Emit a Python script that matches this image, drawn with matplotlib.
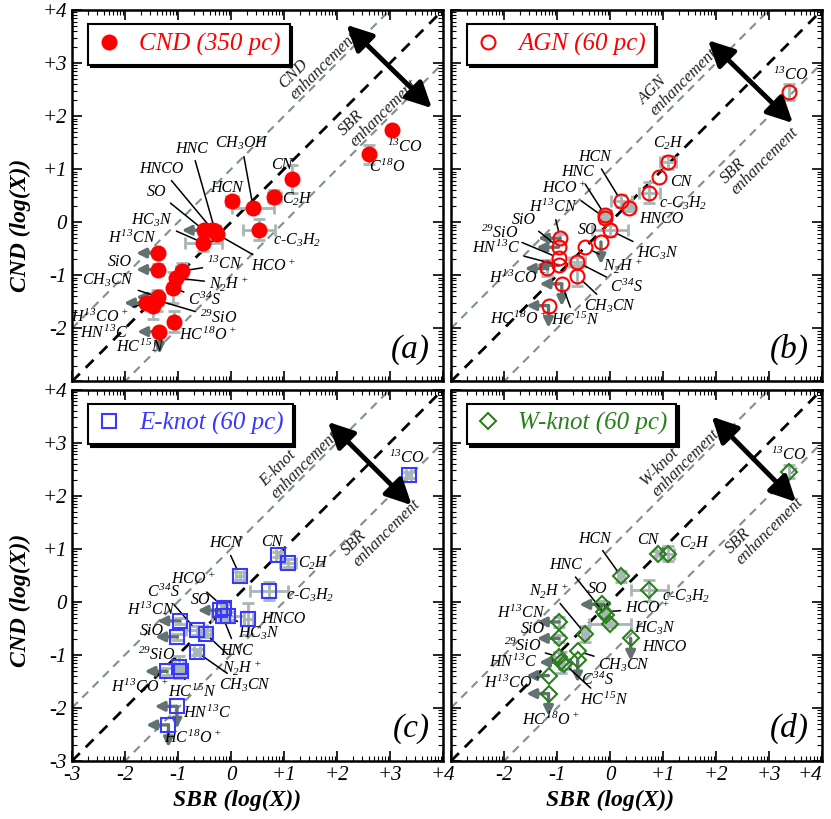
import numpy as np
import matplotlib
matplotlib.use('Agg')
import matplotlib.pyplot as plt
from matplotlib.lines import Line2D

plt.rcParams['font.family'] = 'Liberation Serif'
plt.rcParams['font.style'] = 'italic'
plt.rcParams['mathtext.fontset'] = 'custom'
plt.rcParams['mathtext.rm'] = 'Liberation Serif:italic'
plt.rcParams['mathtext.it'] = 'Liberation Serif:italic'
plt.rcParams['mathtext.bf'] = 'Liberation Serif:italic:bold'

# how each species is written
tex = {
    '13CO': r'$^{13}CO$', 'C18O': r'$C^{18}O$', 'CN': 'CN', 'C2H': r'$C_2H$',
    'HCN': 'HCN', 'CH3OH': r'$CH_3OH$', 'c-C3H2': r'c-$C_3H_2$', 'SO': 'SO',
    'HNCO': 'HNCO', 'HNC': 'HNC', 'HCO+': r'$HCO^+$', 'HC3N': r'$HC_3N$',
    'H13CN': r'$H^{13}CN$', 'SiO': 'SiO', '13CN': r'$^{13}CN$', 'N2H+': r'$N_2H^+$',
    'C34S': r'$C^{34}S$', 'CH3CN': r'$CH_3CN$', '29SiO': r'$^{29}SiO$',
    'H13CO+': r'$H^{13}CO^+$', 'HC15N': r'$HC^{15}N$', 'HC18O+': r'$HC^{18}O^+$',
    'HN13C': r'$HN^{13}C$',
}

# ---- (a) CND 350 pc ----
cnd_species = ['13CO', 'C18O', 'CN', 'C2H', 'HCN', 'CH3OH', 'c-C3H2', 'SO', 'HNCO', 'HNC',
               'HCO+', 'HC3N', 'H13CN', 'SiO', '13CN', 'N2H+', 'C34S', 'CH3CN', '29SiO',
               'H13CO+', 'HC15N', 'HC18O+', 'HN13C']
cnd_sbr = [3.03, 2.61, 1.16, 0.82, 0.02, 0.42, 0.53, -0.51, -0.35, -0.30,
           -0.27, -0.52, -1.37, -1.37, -0.93, -1.04, -1.10, -1.37, -1.39,
           -1.60, -1.48, -1.08, -1.35]
cnd_val = [1.74, 1.28, 0.82, 0.48, 0.40, 0.27, -0.14, -0.15, -0.14, -0.16,
           -0.22, -0.39, -0.58, -0.89, -0.92, -1.05, -1.23, -1.41, -1.47,
           -1.52, -1.58, -1.87, -2.06]
cnd_xerr = [0.05, 0, 0, 0.12, 0.12, 0.40, 0.30, 0, 0.15, 0.10,
            0.08, 0.35, 0, 0, 0.10, 0.08, 0.08, 0, 0.10,
            0, 0.10, 0.08, 0]
cnd_yerr = [0.05, 0.18, 0.26, 0.12, 0.04, 0.10, 0.20, 0, 0.10, 0.08,
            0.10, 0.15, 0, 0.10, 0.15, 0.12, 0.30, 0, 0.20,
            0, 0.25, 0.20, 0]
cnd_lim = ['', '', '', '', '', '', '', 'l', '', '',
           '', '', 'l', 'l', '', '', '', 'l', '',
           'l', '', '', 'ld']

# ---- (b) AGN 60 pc ----
agn_species = ['13CO', 'C2H', 'CN', 'c-C3H2', 'HCN', 'HNCO', 'HNC', 'HCO+', 'HC3N', 'SO',
               'N2H+', 'C34S', 'CH3CN', 'H13CN', 'SiO', '29SiO', 'HN13C', 'H13CO+',
               'HC15N', 'HC18O+']
agn_sbr = [3.37, 1.09, 0.92, 0.74, 0.21, 0.35, -0.09, -0.09, 0.00, -0.17,
           -0.47, -0.62, -0.62, -0.94, -0.97, -0.97, -0.97, -1.19,
           -0.91, -1.16]
agn_val = [2.46, 1.13, 0.86, 0.56, 0.40, 0.27, 0.13, 0.08, -0.15, -0.37,
           -0.47, -0.75, -1.01, -0.30, -0.47, -0.67, -0.81, -0.87,
           -1.16, -1.57]
agn_xerr = [0, 0.15, 0, 0.20, 0.20, 0.10, 0.10, 0.10, 0.34, 0,
            0, 0.15, 0, 0, 0, 0, 0, 0,
            0, 0]
agn_yerr = [0.15, 0.12, 0, 0.20, 0.12, 0.05, 0.10, 0.10, 0.10, 0,
            0, 0.10, 0.20, 0.08, 0, 0, 0, 0.15,
            0, 0]
agn_lim = ['', '', '', '', '', '', '', '', '', 'd',
           '', '', '', 'l', 'l', '', 'l', 'l',
           'ld', 'ld']

# ---- (c) E-knot 60 pc ----
ek_species = ['13CO', 'CN', 'C2H', 'HCN', 'c-C3H2', 'HNCO', 'HCO+', 'SO', 'HC3N', 'HNC',
              'C34S', 'N2H+', 'H13CN', 'SiO', 'CH3CN', '29SiO', 'HC15N', 'H13CO+',
              'HN13C', 'HC18O+']
ek_sbr = [3.35, 0.89, 1.07, 0.17, 0.72, 0.33, -0.13, -0.21, -0.05, -0.16,
          -0.65, -0.48, -0.97, -1.01, -0.64, -0.98, -0.95, -1.21,
          -1.02, -1.18]
ek_val = [2.39, 0.89, 0.73, 0.49, 0.20, -0.33, -0.11, -0.16, -0.27, -0.27,
          -0.54, -0.60, -0.36, -0.66, -0.95, -1.23, -1.31, -1.31,
          -1.97, -2.32]
ek_xerr = [0.05, 0.05, 0.15, 0.08, 0.36, 0.08, 0.06, 0, 0.30, 0.06,
           0.20, 0.10, 0, 0, 0.06, 0.08, 0.06, 0,
           0, 0]
ek_yerr = [0.05, 0.05, 0.08, 0.08, 0.17, 0.30, 0.06, 0, 0.08, 0.06,
           0.08, 0.06, 0.06, 0.06, 0.06, 0.20, 0.10, 0.06,
           0, 0]
ek_lim = ['', '', '', '', '', '', '', 'l', '', '',
          '', '', 'l', 'l', '', '', '', 'l',
          'ld', 'ld']

# ---- (d) W-knot 60 pc ----
wk_species = ['13CO', 'CN', 'C2H', 'HCN', 'c-C3H2', 'SO', 'HCO+', 'HNC', 'HC3N', 'N2H+',
              'HNCO', 'H13CN', 'SiO', 'CH3CN', 'C34S', '29SiO', 'HN13C', 'HC15N',
              'H13CO+', 'HC18O+']
wk_sbr = [3.38, 0.91, 1.10, 0.21, 0.74, -0.16, -0.11, -0.08, 0.00, -0.47,
          0.39, -0.96, -0.96, -0.61, -0.61, -0.96, -0.92, -0.86,
          -1.16, -1.16]
wk_val = [2.45, 0.91, 0.91, 0.48, 0.22, -0.05, -0.19, -0.25, -0.42, -0.60,
          -0.69, -0.38, -0.69, -0.93, -1.10, -1.04, -1.14, -1.17,
          -1.39, -1.73]
wk_xerr = [0, 0.05, 0.10, 0.06, 0.35, 0, 0.06, 0.06, 0.40, 0.06,
           0, 0, 0, 0, 0, 0.10, 0, 0.10,
           0, 0]
wk_yerr = [0.12, 0.05, 0.15, 0.10, 0.20, 0.06, 0.06, 0.06, 0.06, 0.15,
           0, 0.10, 0.06, 0, 0, 0.10, 0.20, 0.10,
           0, 0]
wk_lim = ['', '', '', '', '', 'l', '', '', '', '',
          'd', 'l', 'l', '', 'd', '', 'l', '',
          'l', 'ld']

# label placement: species -> (x, y, leader line?)
cnd_lab = {
    '13CO': (3.28, 1.42, 0), 'C18O': (2.94, 1.04, 0), 'CN': (0.96, 1.08, 0),
    'C2H': (1.26, 0.43, 0), 'HCN': (-0.08, 0.64, 0), 'CH3OH': (0.20, 1.48, 1),
    'HNC': (-0.74, 1.39, 1), 'HNCO': (-1.31, 1.01, 1), 'SO': (-1.40, 0.57, 1),
    'HC3N': (-1.50, 0.04, 1), 'H13CN': (-1.87, -0.31, 0), 'c-C3H2': (1.24, -0.34, 0),
    'HCO+': (0.80, -0.83, 1), 'SiO': (-2.09, -0.75, 0), '13CN': (-0.12, -0.79, 1),
    'N2H+': (-0.05, -1.16, 1), 'CH3CN': (-2.32, -1.09, 1), 'C34S': (-0.50, -1.47, 1),
    'H13CO+': (-2.47, -1.79, 1), '29SiO': (-0.24, -1.81, 1), 'HN13C': (-2.40, -2.09, 0),
    'HC18O+': (-0.43, -2.13, 0), 'HC15N': (-1.72, -2.35, 0),
}
agn_lab = {
    '13CO': (3.42, 2.77, 0), 'C2H': (1.11, 1.49, 0), 'CN': (1.34, 0.76, 0),
    'c-C3H2': (1.37, 0.35, 0), 'HCN': (-0.30, 1.23, 1), 'HNCO': (0.96, 0.07, 0),
    'HNC': (-0.61, 0.94, 1), 'HCO+': (-0.86, 0.63, 1), 'HC3N': (0.90, -0.59, 1),
    'SO': (-0.42, -0.15, 0), 'N2H+': (0.24, -0.82, 1), 'C34S': (0.32, -1.23, 1),
    'CH3CN': (0.00, -1.59, 1), 'H13CN': (-1.08, 0.29, 1), 'SiO': (-1.62, 0.05, 1),
    '29SiO': (-2.09, -0.20, 1), 'HN13C': (-2.15, -0.50, 1), 'H13CO+': (-1.74, -1.06, 0),
    'HC15N': (-0.66, -1.84, 1), 'HC18O+': (-1.71, -1.82, 0),
}
ek_lab = {
    '13CO': (3.32, 2.70, 0), 'CN': (0.77, 1.13, 0), 'C2H': (1.55, 0.72, 0),
    'HCN': (-0.11, 1.10, 1), 'c-C3H2': (1.49, 0.12, 0), 'HNCO': (0.99, -0.32, 0),
    'HCO+': (-0.71, 0.41, 1), 'SO': (-0.58, 0.04, 0), 'HC3N': (0.52, -0.60, 1),
    'HNC': (0.10, -0.92, 1), 'C34S': (-1.28, 0.18, 1), 'N2H+': (0.20, -1.24, 1),
    'H13CN': (-1.50, -0.16, 0), 'SiO': (-1.50, -0.55, 0), 'CH3CN': (0.26, -1.58, 1),
    '29SiO': (-1.40, -1.01, 0), 'H13CO+': (-1.72, -1.61, 0), 'HC15N': (-0.74, -1.70, 1),
    'HN13C': (-0.46, -2.10, 0), 'HC18O+': (-0.71, -2.58, 0),
}
wk_lab = {
    '13CO': (3.38, 2.76, 0), 'CN': (0.71, 1.16, 0), 'C2H': (1.59, 1.11, 0),
    'HCN': (-0.30, 1.19, 1), 'c-C3H2': (1.43, 0.10, 0), 'SO': (-0.23, 0.25, 0),
    'HCO+': (0.70, -0.13, 1), 'HC3N': (0.84, -0.50, 0), 'HNC': (-0.83, 0.69, 1),
    'N2H+': (-1.15, 0.22, 1), 'HNCO': (1.02, -0.85, 0), 'H13CN': (-1.68, -0.21, 0),
    'SiO': (-1.46, -0.51, 0), 'CH3CN': (0.27, -1.20, 1), 'C34S': (-0.23, -1.48, 0),
    '29SiO': (-1.65, -0.84, 1), 'HN13C': (-1.84, -1.14, 0), 'HC15N': (-0.11, -1.86, 1),
    'H13CO+': (-1.84, -1.54, 0), 'HC18O+': (-1.11, -2.24, 0),
}

tick_vals = [-3, -2, -1, 0, 1, 2, 3, 4]
tick_text = ['-3', '-2', '-1', '0', '+1', '+2', '+3', '+4']
diag_offsets = [-1, 0, 1]

err_col = '#a8b6b6'
lim_col = '#627272'

panels = [
    dict(pos=[0.0866, 0.5342, 0.4465, 0.4536], sp=cnd_species, x=cnd_sbr, y=cnd_val,
         xe=cnd_xerr, ye=cnd_yerr, lim=cnd_lim, lab=cnd_lab, name='CND', leg='CND (350 pc)',
         col='#ff0000', mk='o', ms=10, fill=True, tag='(a)',
         arrow=((2.18, 3.72), (3.79, 2.15)), up_txt=(1.64, 3.05), lo_txt=(2.77, 2.16),
         xl=False, yl=True, ylblank=True),
    dict(pos=[0.5427, 0.5342, 0.4465, 0.4536], sp=agn_species, x=agn_sbr, y=agn_val,
         xe=agn_xerr, ye=agn_yerr, lim=agn_lim, lab=agn_lab, name='AGN', leg='AGN (60 pc)',
         col='#ff0000', mk='o', ms=10, fill=False, tag='(b)',
         arrow=((1.85, 3.43), (3.45, 1.87)), up_txt=(1.28, 2.74), lo_txt=(2.82, 1.26),
         xl=False, yl=False),
    dict(pos=[0.0866, 0.0708, 0.4465, 0.4536], sp=ek_species, x=ek_sbr, y=ek_val,
         xe=ek_xerr, ye=ek_yerr, lim=ek_lim, lab=ek_lab, name='E-knot', leg='E-knot (60 pc)',
         col='#3838ff', mk='s', ms=10, fill=False, tag='(c)',
         arrow=((1.83, 3.39), (3.41, 1.82)), up_txt=(1.29, 2.69), lo_txt=(2.83, 1.40),
         xl=True, yl=True),
    dict(pos=[0.5427, 0.0708, 0.4465, 0.4536], sp=wk_species, x=wk_sbr, y=wk_val,
         xe=wk_xerr, ye=wk_yerr, lim=wk_lim, lab=wk_lab, name='W-knot', leg='W-knot (60 pc)',
         col='#2a801c', mk='D', ms=8, fill=False, tag='(d)',
         arrow=((1.92, 3.49), (3.51, 1.88)), up_txt=(1.32, 2.72), lo_txt=(2.91, 1.44),
         xl=True, yl=False, xlblank=True),
]

fig = plt.figure(figsize=(8.31, 8.19), dpi=100)

for p in panels:
    ax = fig.add_axes(p['pos'])
    ax.set_xlim(-3, 4)
    ax.set_ylim(-3, 4)

    # reference lines y = x and y = x +/- 1
    for off in diag_offsets:
        xs = np.array([-3, 4])
        if off == 0:
            ax.plot(xs, xs, color='k', ls=(0, (4, 3)), lw=2, zorder=1)
        else:
            ax.plot(xs, xs + off, color='#7f9090', ls=(0, (4, 3)), lw=1.5, zorder=1)

    x = np.array(p['x'])
    y = np.array(p['y'])
    xe = np.array(p['xe'])
    ye = np.array(p['ye'])
    mx = xe > 0
    my = ye > 0
    ax.errorbar(x[mx], y[mx], xerr=xe[mx], fmt='none', ecolor=err_col, elinewidth=2,
                capsize=4, capthick=2, zorder=2)
    ax.errorbar(x[my], y[my], yerr=ye[my], fmt='none', ecolor=err_col, elinewidth=2,
                capsize=4, capthick=2, zorder=2)

    # upper limits
    astyle = dict(arrowstyle='-|>,head_length=0.5,head_width=0.25', mutation_scale=11,
                  color=lim_col, lw=2.4, shrinkA=0, shrinkB=0)
    for xi, yi, lm in zip(x, y, p['lim']):
        if 'l' in lm:
            ax.annotate('', xy=(xi - 0.42, yi), xytext=(xi, yi), arrowprops=astyle, zorder=2)
        if 'd' in lm:
            ax.annotate('', xy=(xi, yi - 0.42), xytext=(xi, yi), arrowprops=astyle, zorder=2)

    fc = p['col'] if p['fill'] else 'none'
    ax.plot(x, y, ls='none', marker=p['mk'], ms=p['ms'], mfc=fc, mec=p['col'],
            mew=1.5, zorder=4)

    # species labels
    for sp, xi, yi in zip(p['sp'], x, y):
        lx, ly, lead = p['lab'][sp]
        if lead:
            ax.annotate(tex[sp], xy=(xi, yi), xytext=(lx, ly), ha='center', va='center',
                        fontsize=11.5,
                        arrowprops=dict(arrowstyle='-', color='k', lw=1.1,
                                        shrinkA=1, shrinkB=5), zorder=3)
        else:
            ax.text(lx, ly, tex[sp], ha='center', va='center', fontsize=11.5, zorder=3)

    # enhancement arrow and text
    (a0, a1) = p['arrow']
    ax.annotate('', xy=a1, xytext=a0,
                arrowprops=dict(arrowstyle='<|-|>,head_length=0.7,head_width=0.35',
                                color='k', lw=3.5, shrinkA=0, shrinkB=0, mutation_scale=22),
                zorder=5)
    ax.text(*p['up_txt'], p['name'] + '\nenhancement', rotation=45, rotation_mode='anchor',
            ha='center', va='center', multialignment='left', fontsize=12,
            color='#222222', linespacing=1.0)
    ax.text(*p['lo_txt'], 'SBR\nenhancement', rotation=45, rotation_mode='anchor',
            ha='center', va='center', multialignment='left', fontsize=12,
            color='#222222', linespacing=1.0)

    # legend box with shadow
    h = Line2D([], [], ls='none', marker=p['mk'], ms=p['ms'], mfc=fc, mec=p['col'], mew=1.5)
    leg = ax.legend([h], [p['leg']], loc='upper left', bbox_to_anchor=(0.043, 0.962),
                    borderaxespad=0, fancybox=False, shadow={'color': 'k', 'alpha': 1},
                    framealpha=1, edgecolor='k', fontsize=18, handlelength=1.0,
                    handletextpad=0.7, borderpad=0.35)
    leg.get_frame().set_linewidth(1.5)
    for t in leg.get_texts():
        t.set_color(p['col'])

    ax.text(0.965, 0.045, p['tag'], transform=ax.transAxes, ha='right', va='bottom',
            fontsize=24)

    # ticks
    minor = [n + np.log10(k) for n in range(-3, 4) for k in range(2, 10)]
    ax.set_xticks(tick_vals)
    ax.set_yticks(tick_vals)
    ax.set_xticks(minor, minor=True)
    ax.set_yticks(minor, minor=True)
    ax.tick_params(which='both', direction='in', top=True, right=True, labelsize=15)
    ax.tick_params(which='major', length=7, width=1.2)
    ax.tick_params(which='minor', length=3.5, width=0.8)
    if p['xl']:
        xt = list(tick_text)
        if p.get('xlblank'):
            xt[0] = ''
        ax.set_xticklabels(xt)
        if p.get('xlblank'):
            ax.get_xticklabels()[-1].set_horizontalalignment('right')
    else:
        ax.set_xticklabels([])
    if p['yl']:
        yt = list(tick_text)
        if p.get('ylblank'):
            yt[0] = ''
        ax.set_yticklabels(yt)
    else:
        ax.set_yticklabels([])
    for s in ax.spines.values():
        s.set_linewidth(1.8)

fig.text(0.024, 1 - 225 / 819, 'CND (log(X))', rotation=90, ha='center', va='center',
         fontsize=17, fontweight='bold')
fig.text(0.024, 1 - 600 / 819, 'CND (log(X))', rotation=90, ha='center', va='center',
         fontsize=17, fontweight='bold')
fig.text(237 / 831, 1 - 800 / 819, 'SBR (log(X))', ha='center', va='center',
         fontsize=17, fontweight='bold')
fig.text(610 / 831, 1 - 800 / 819, 'SBR (log(X))', ha='center', va='center',
         fontsize=17, fontweight='bold')

fig.savefig('out.png', dpi=100)
